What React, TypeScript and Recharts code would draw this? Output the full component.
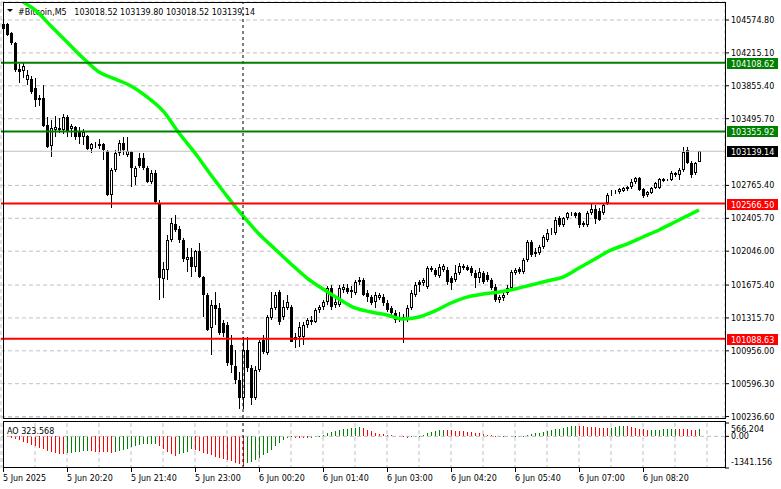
import React from 'react';
import {
  ComposedChart,
  Bar,
  Line,
  XAxis,
  YAxis,
  CartesianGrid,
  ReferenceLine,
} from 'recharts';

const FONT = "'DejaVu Sans', Verdana, sans-serif";
const W = 781;

const SYMBOL = '#Bitcoin,M5';
const TIME_LABELS = [
  '5 Jun 2025', '5 Jun 20:20', '5 Jun 21:40', '5 Jun 23:00', '6 Jun 00:20', '6 Jun 01:40',
  '6 Jun 03:00', '6 Jun 04:20', '6 Jun 05:40', '6 Jun 07:00', '6 Jun 08:20',
];
const BARS_PER_LABEL = 16;
const BARS_PER_GRID = 8;
const SLOTS = 181; // 175 bars + chart shift on the right
const DAY_BREAK = 60; // 6 Jun 00:00

// M5 candles, 5 Jun 19:00 .. 6 Jun 09:30
const OPEN = [
  104477, 104531, 104433, 104323, 104040, 104017, 103919, 103930, 103831, 103700,
  103721, 103426, 103196, 103372, 103372, 103372, 103514, 103383, 103404, 103350,
  103295, 103306, 103164, 103207, 103196, 103218, 103142, 102660, 102934, 103120,
  103229, 103098, 103131, 102857, 103065, 103065, 102956, 102803, 102901, 102573,
  101741, 101840, 102168, 102343, 102289, 102168, 101950, 101982, 101873, 102048,
  101763, 101566, 101205, 101457, 101425, 101260, 101238, 101019, 100790, 100637,
  100439, 100965, 100768, 100439, 100746, 101074, 100932, 101315, 101425, 101599,
  101326, 101425, 101436, 101107, 101107, 101107, 101238, 101271, 101271, 101403,
  101436, 101490, 101643, 101457, 101457, 101621, 101643, 101599, 101588, 101709,
  101731, 101588, 101544, 101490, 101533, 101544, 101479, 101425, 101370, 101326,
  101293, 101293, 101425, 101566, 101709, 101698, 101654, 101862, 101840, 101774,
  101840, 101840, 101752, 101731, 101807, 101862, 101873, 101862, 101807, 101752,
  101807, 101785, 101731, 101654, 101512, 101533, 101588, 101643, 101807, 101851,
  101818, 101950, 102146, 102015, 102026, 102091, 102168, 102245, 102245, 102409,
  102333, 102409, 102453, 102464, 102464, 102333, 102333, 102464, 102508, 102486,
  102464, 102573, 102682, 102682, 102693, 102704, 102726, 102748, 102803, 102847,
  102726, 102660, 102682, 102737, 102737, 102814, 102825, 102825, 102901, 102880,
  102934, 103153, 103011, 102901, 103018.52,
];
const HIGH = [
  104553, 104542, 104444, 104334, 104094, 104105, 104028, 103962, 103940, 103754,
  103864, 103514, 103481, 103525, 103503, 103547, 103536, 103437, 103415, 103404,
  103383, 103317, 103229, 103240, 103274, 103229, 103153, 102956, 103153, 103262,
  103295, 103295, 103142, 102978, 103120, 103120, 102978, 102934, 102934, 102606,
  101928, 102223, 102409, 102442, 102321, 102190, 102080, 102080, 102059, 102135,
  101774, 101588, 101512, 101599, 101479, 101293, 101271, 101129, 100965, 100724,
  101107, 101107, 100801, 100790, 101074, 101129, 101348, 101599, 101599, 101621,
  101512, 101566, 101457, 101151, 101271, 101271, 101315, 101337, 101425, 101457,
  101512, 101665, 101676, 101534, 101676, 101687, 101687, 101665, 101731, 101763,
  101752, 101621, 101566, 101599, 101588, 101577, 101512, 101446, 101403, 101381,
  101359, 101457, 101621, 101709, 101731, 101752, 101884, 101884, 101862, 101906,
  101906, 101873, 101774, 101895, 101917, 101906, 101895, 101884, 101840, 101862,
  101829, 101818, 101752, 101687, 101566, 101588, 101676, 101840, 101862, 101873,
  101971, 102168, 102168, 102080, 102113, 102223, 102289, 102300, 102420, 102431,
  102420, 102475, 102475, 102475, 102475, 102376, 102486, 102562, 102551, 102519,
  102573, 102682, 102715, 102715, 102737, 102748, 102759, 102836, 102858, 102858,
  102737, 102704, 102748, 102803, 102847, 102847, 102836, 102923, 102912, 102956,
  103185, 103185, 103033, 103022, 103139.8,
];
const LOW = [
  104455, 104400, 104301, 104006, 103886, 103940, 103864, 103765, 103623, 103634,
  103404, 103174, 103076, 103295, 103339, 103328, 103295, 103295, 103262, 103218,
  103207, 103153, 103120, 103174, 103164, 103044, 102649, 102518, 102912, 103087,
  103098, 103076, 102748, 102770, 102956, 102934, 102792, 102781, 102573, 101512,
  101533, 101731, 102146, 102256, 102135, 101928, 101818, 101763, 101818, 101752,
  101326, 101173, 100910, 101238, 101129, 101107, 100790, 100713, 100593, 100320,
  100320, 100724, 100363, 100418, 100724, 100921, 100910, 101293, 101403, 101238,
  101293, 101403, 101052, 100987, 100998, 101019, 101205, 101238, 101260, 101370,
  101403, 101457, 101403, 101425, 101436, 101588, 101577, 101533, 101566, 101676,
  101555, 101490, 101457, 101425, 101512, 101446, 101381, 101337, 101260, 101271,
  101041, 101271, 101403, 101544, 101599, 101665, 101632, 101818, 101763, 101752,
  101818, 101676, 101621, 101709, 101785, 101840, 101829, 101774, 101643, 101698,
  101687, 101709, 101621, 101490, 101479, 101501, 101566, 101621, 101785, 101796,
  101796, 101928, 101982, 101982, 102004, 102070, 102146, 102223, 102223, 102311,
  102311, 102387, 102431, 102409, 102300, 102311, 102311, 102442, 102343, 102376,
  102442, 102551, 102649, 102671, 102671, 102693, 102704, 102726, 102781, 102704,
  102628, 102638, 102671, 102726, 102726, 102803, 102814, 102814, 102858, 102825,
  102912, 103000, 102847, 102880, 103018.52,
];
const CLOSE = [
  104531, 104411, 104323, 104028, 104006, 104072, 103973, 103787, 103700, 103721,
  103415, 103185, 103393, 103404, 103393, 103514, 103361, 103415, 103295, 103295,
  103350, 103164, 103218, 103218, 103218, 103153, 102660, 102934, 103120, 103229,
  103153, 103142, 102956, 102956, 102978, 102956, 102803, 102901, 102584, 101752,
  101852, 102168, 102354, 102278, 102168, 101961, 101982, 101873, 102048, 101763,
  101566, 101184, 101457, 101414, 101151, 101151, 100823, 100801, 100637, 100439,
  100965, 100768, 100439, 100746, 101052, 100943, 101326, 101425, 101566, 101271,
  101436, 101490, 101052, 101074, 101216, 101238, 101293, 101293, 101403, 101436,
  101490, 101643, 101436, 101490, 101643, 101654, 101599, 101621, 101709, 101731,
  101566, 101544, 101479, 101566, 101566, 101479, 101403, 101370, 101293, 101293,
  101326, 101425, 101588, 101676, 101676, 101731, 101862, 101840, 101785, 101873,
  101884, 101709, 101698, 101807, 101884, 101884, 101840, 101807, 101752, 101818,
  101709, 101731, 101643, 101512, 101544, 101566, 101643, 101818, 101840, 101818,
  101950, 102146, 102004, 102037, 102091, 102201, 102245, 102256, 102387, 102333,
  102409, 102464, 102464, 102431, 102333, 102354, 102464, 102508, 102398, 102387,
  102551, 102660, 102693, 102693, 102726, 102737, 102748, 102803, 102847, 102715,
  102649, 102693, 102737, 102792, 102836, 102836, 102830, 102901, 102880, 102934,
  103131, 103011, 102880, 103011, 103139.14,
];

// green moving average, read every few bars
const MA_AT = [
  5, 8, 12, 16, 20, 24, 28, 32, 36, 40, 44, 48, 52, 56, 60, 64, 68, 72, 76, 80, 84, 88,
  92, 96, 100, 104, 108, 112, 116, 120, 124, 128, 132, 136, 140, 144, 148, 152, 156,
  160, 164, 168, 172, 174,
];
const MA_VALUES = [
  104772, 104685, 104509, 104334, 104159, 104006, 103930, 103853, 103733, 103580, 103339,
  103120, 102880, 102649, 102431, 102234, 102070, 101906, 101752, 101632, 101523, 101425,
  101381, 101348, 101304, 101326, 101392, 101479, 101544, 101577, 101599, 101632, 101676,
  101720, 101763, 101862, 101961, 102059, 102124, 102201, 102278, 102365, 102453, 102497,
];

// Awesome Oscillator
const AO = [
  -21, -42, -62, -104, -166, -228, -291, -353, -415, -477,
  -540, -602, -664, -706, -747, -768, -726, -685, -664, -643,
  -623, -614, -631, -643, -656, -664, -676, -685, -672, -631,
  -581, -519, -457, -394, -353, -332, -324, -311, -303, -415,
  -540, -643, -747, -830, -768, -706, -643, -540, -560, -623,
  -685, -747, -809, -872, -913, -955, -1017, -1058, -1121, -1160,
  -1250, -1141, -1100, -1017, -913, -789, -685, -560, -415, -270,
  -145, -62, -33, -50, -62, -75, -83, -62, -33, 8,
  71, 137, 195, 241, 282, 311, 332, 349, 365, 382,
  344, 278, 208, 154, 112, 83, 54, 37, 21, 8,
  -12, -62, -33, -12, 21, 71, 137, 195, 237, 261,
  278, 261, 249, 237, 220, 208, 195, 178, 154, 125,
  95, 71, 42, 25, 12, 4, 8, 12, 17, 21,
  29, 62, 95, 125, 158, 191, 224, 257, 291, 324,
  357, 390, 419, 444, 436, 423, 411, 398, 386, 374,
  357, 340, 365, 394, 419, 444, 427, 398, 365, 332,
  303, 274, 278, 282, 286, 291, 295, 299, 303, 299,
  295, 291, 286, 282, 323.568,
];

const PRICE_TICKS = [
  104574.8, 104215.1, 103855.4, 103495.7, 102765.4, 102405.7, 102046.0, 101675.4,
  101315.7, 100956.0, 100596.3, 100236.6,
];
const PRICE_DOMAIN = [100221, 104772];
const GREEN_LEVELS = [104108.62, 103355.92];
const RED_LEVELS = [102566.5, 101088.63];
const AO_RANGE = [-1341.156, 566.204];

const LAST = CLOSE.length - 1;
const maMap = new Map(MA_AT.map((k, j) => [k, MA_VALUES[j]]));
const rows = Array.from({ length: SLOTS }, (_, i) => ({
  i,
  open: OPEN[i],
  high: HIGH[i],
  low: LOW[i],
  close: CLOSE[i],
  ma: maMap.has(i) ? maMap.get(i) : null,
  ao: AO[i] ?? null,
  aoUp: i > 0 && AO[i] > AO[i - 1],
}));
const gridTicks = Array.from({ length: Math.ceil(SLOTS / BARS_PER_GRID) }, (_, k) => k * BARS_PER_GRID);

const candleRange = (d: any) => (d.high == null ? null : [d.low, d.high]);

function Candle(props: any) {
  const { x, width, y, height, payload } = props;
  if (!payload || payload.open == null || !isFinite(y) || !isFinite(height)) return <g />;
  const top = Math.min(y, y + height);
  const span = Math.abs(height);
  const { open, high, low, close } = payload;
  const k = high > low ? span / (high - low) : 0;
  const py = (v: number) => top + (high - v) * k;
  const cx = Math.round(x + width / 2);
  const yo = py(open);
  const yc = py(close);
  const bTop = Math.round(Math.min(yo, yc));
  const bBot = Math.max(Math.round(Math.max(yo, yc)), bTop + 1);
  const wTop = Math.round(top);
  const wBot = Math.max(Math.round(top + span), wTop + 1);
  const up = close >= open;
  return (
    <g shapeRendering="crispEdges">
      <rect x={cx} y={wTop} width={1} height={wBot - wTop} fill="#000" />
      {up ? (
        <rect x={cx - 0.5} y={bTop + 0.5} width={2} height={Math.max(bBot - bTop - 1, 0)} fill="#fff" stroke="#000" />
      ) : (
        <rect x={cx - 1} y={bTop} width={3} height={bBot - bTop} fill="#000" />
      )}
    </g>
  );
}

function AoBar(props: any) {
  const { x, width, y, height, payload } = props;
  if (!payload || payload.ao == null || !isFinite(y) || !isFinite(height)) return <g />;
  const top = Math.round(Math.min(y, y + height));
  const bot = Math.round(Math.max(y, y + height));
  const cx = Math.round(x + width / 2);
  return (
    <rect
      x={cx}
      y={top}
      width={1}
      height={Math.max(1, bot - top)}
      fill={payload.aoUp ? '#008000' : '#ff0000'}
      shapeRendering="crispEdges"
    />
  );
}

function PriceTick({ x, y, payload }: any) {
  return (
    <text x={x} y={y + 3} fontSize={8} fontFamily={FONT} fill="#000">
      {Number(payload.value).toFixed(2)}
    </text>
  );
}

function AoTick({ x, y, payload }: any) {
  const v = Number(payload.value);
  const dy = v > 0 ? 8.5 : v < 0 ? -3 : 3;
  return (
    <text x={x} y={y + dy} fontSize={8} fontFamily={FONT} fill="#000">
      {v === 0 ? '0.00' : v.toFixed(3)}
    </text>
  );
}

function TimeTick({ x, y, payload }: any) {
  const v = payload.value;
  const label = v % BARS_PER_LABEL === 0 ? TIME_LABELS[v / BARS_PER_LABEL] : undefined;
  if (!label) return <g />;
  return (
    <g>
      <rect x={x} y={y} width={1} height={4} fill="#000" shapeRendering="crispEdges" />
      <text x={x} y={y + 13} fontSize={8} fontFamily={FONT} fill="#000">
        {label}
      </text>
    </g>
  );
}

function Tag({ viewBox, text, bg }: any) {
  if (!viewBox) return null;
  const x = viewBox.x + viewBox.width;
  const y = Math.round(viewBox.y);
  return (
    <g>
      <rect x={x + 2} y={y - 5} width={51} height={11} fill={bg} />
      <text x={x + 6} y={y + 3.5} fontSize={8} fontFamily={FONT} fill="#fff">
        {text}
      </text>
    </g>
  );
}

export default function App() {
  const header = `${SYMBOL}   ${OPEN[LAST].toFixed(2)} ${HIGH[LAST].toFixed(2)} ${LOW[LAST].toFixed(2)} ${CLOSE[LAST].toFixed(2)}`;
  return (
    <div style={{ position: 'absolute', left: 0, top: 0, width: W, height: 489, background: '#fff' }}>
      <svg width={W} height={20} style={{ position: 'absolute', left: 0, top: 0 }}>
        <polygon points="7,9 13,9 10,12" fill="#000" />
        <text x={18} y={15} fontSize={8} fontFamily={FONT} fill="#000" style={{ whiteSpace: 'pre' }}>
          {header}
        </text>
      </svg>

      <div style={{ position: 'absolute', left: 0, top: 420 }}>
        <ComposedChart
          width={W}
          height={69}
          data={rows}
          margin={{ top: 3, right: 0, bottom: 0, left: 1 }}
          barCategoryGap={0}
        >
          <CartesianGrid stroke="#c0c0c0" strokeDasharray="4 3" horizontal={false} />
          <XAxis
            dataKey="i"
            ticks={gridTicks}
            interval={0}
            height={21}
            tickSize={0}
            tickMargin={0}
            axisLine={false}
            tickLine={false}
            tick={(p: any) => <TimeTick {...p} />}
          />
          <YAxis
            orientation="right"
            width={56}
            domain={AO_RANGE}
            allowDataOverflow
            ticks={[AO_RANGE[1], 0, AO_RANGE[0]]}
            interval={0}
            tickSize={4}
            tickMargin={2}
            axisLine={false}
            tickLine={{ stroke: '#000' }}
            tick={(p: any) => <AoTick {...p} />}
          />
          <ReferenceLine y={0} stroke="#c0c0c0" strokeDasharray="4 3" />
          <Bar dataKey="ao" shape={(p: any) => <AoBar {...p} />} isAnimationActive={false} />
          <ReferenceLine x={DAY_BREAK} stroke="#000" strokeDasharray="3 3" />
        </ComposedChart>
      </div>

      <div style={{ position: 'absolute', left: 0, top: 0 }}>
        <ComposedChart
          width={W}
          height={424}
          data={rows}
          margin={{ top: 2, right: 0, bottom: 6, left: 1 }}
          barCategoryGap={0}
        >
          <CartesianGrid stroke="#c0c0c0" strokeDasharray="4 3" />
          <XAxis
            dataKey="i"
            ticks={gridTicks}
            interval={0}
            tick={false}
            tickLine={false}
            axisLine={false}
            height={0}
          />
          <YAxis
            orientation="right"
            width={56}
            domain={PRICE_DOMAIN}
            allowDataOverflow
            ticks={PRICE_TICKS}
            interval={0}
            tickSize={4}
            tickMargin={2}
            axisLine={false}
            tickLine={{ stroke: '#000' }}
            tick={(p: any) => <PriceTick {...p} />}
          />
          <ReferenceLine y={CLOSE[LAST]} stroke="#c0c0c0" label={<Tag text={CLOSE[LAST].toFixed(2)} bg="#000" />} />
          <Bar dataKey={candleRange} shape={(p: any) => <Candle {...p} />} isAnimationActive={false} />
          <Line
            dataKey="ma"
            type="monotone"
            stroke="#00ff00"
            strokeWidth={3.5}
            dot={false}
            activeDot={false}
            connectNulls
            isAnimationActive={false}
          />
          <ReferenceLine x={DAY_BREAK} stroke="#000" strokeDasharray="3 3" />
          {GREEN_LEVELS.map((v) => (
            <ReferenceLine key={v} y={v} stroke="#008000" strokeWidth={2} label={<Tag text={v.toFixed(2)} bg="#008000" />} />
          ))}
          {RED_LEVELS.map((v) => (
            <ReferenceLine key={v} y={v} stroke="#ff0000" strokeWidth={2} label={<Tag text={v.toFixed(2)} bg="#ff0000" />} />
          ))}
        </ComposedChart>
      </div>

      <svg width={W} height={489} style={{ position: 'absolute', left: 0, top: 0, pointerEvents: 'none' }}>
        <rect x={3.5} y={2.5} width={722} height={416} fill="none" stroke="#000" />
        <rect x={3.5} y={421.5} width={722} height={46} fill="none" stroke="#000" />
        <text x={7} y={434} fontSize={8} fontFamily={FONT} fill="#000">
          {`AO ${AO[LAST].toFixed(3)}`}
        </text>
      </svg>
    </div>
  );
}
